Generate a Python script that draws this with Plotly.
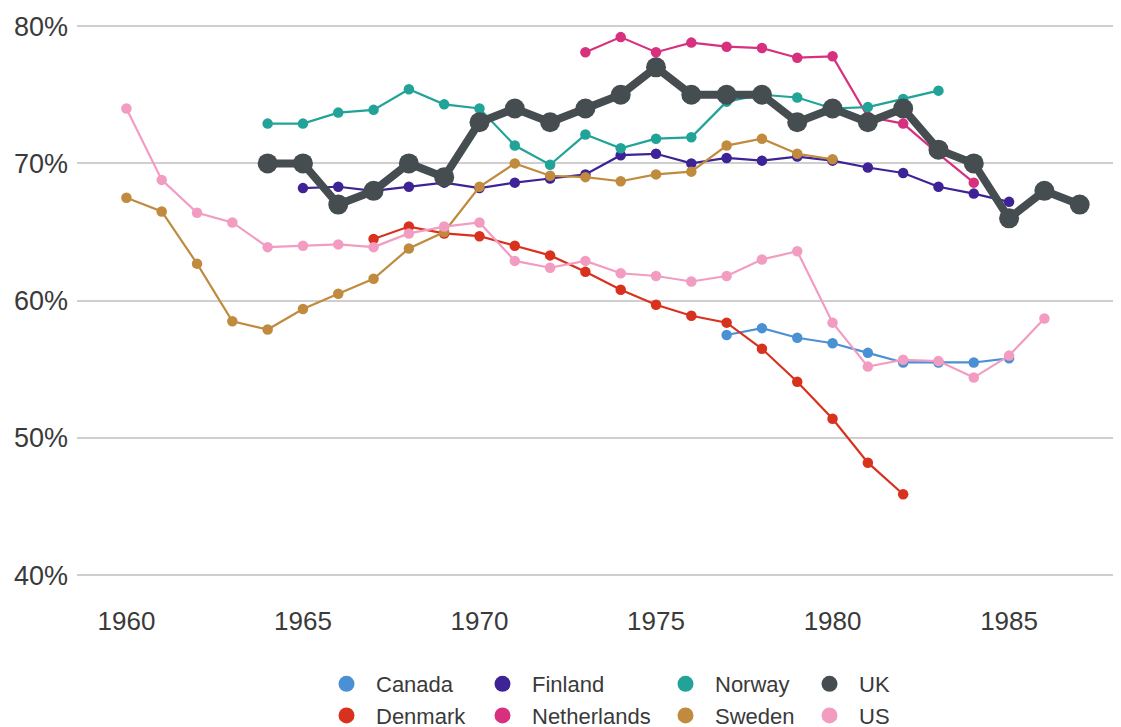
import plotly.graph_objects as go

# ---- data (percent) ----
canada_years = list(range(1977, 1986))
canada_vals = [57.5, 58.0, 57.3, 56.9, 56.2, 55.5, 55.5, 55.5, 55.8]

denmark_years = list(range(1967, 1983))
denmark_vals = [64.5, 65.4, 64.9, 64.7, 64.0, 63.3, 62.1, 60.8, 59.7, 58.9,
                58.4, 56.5, 54.1, 51.4, 48.2, 45.9]

finland_years = list(range(1965, 1986))
finland_vals = [68.2, 68.3, 68.0, 68.3, 68.6, 68.2, 68.6, 68.9, 69.2, 70.6,
                70.7, 70.0, 70.4, 70.2, 70.5, 70.2, 69.7, 69.3, 68.3, 67.8, 67.2]

netherlands_years = list(range(1973, 1985))
netherlands_vals = [78.1, 79.2, 78.1, 78.8, 78.5, 78.4, 77.7, 77.8, 73.4, 72.9,
                    70.7, 68.6]

norway_years = list(range(1964, 1984))
norway_vals = [72.9, 72.9, 73.7, 73.9, 75.4, 74.3, 74.0, 71.3, 69.9, 72.1,
               71.1, 71.8, 71.9, 74.5, 75.0, 74.8, 74.0, 74.1, 74.7, 75.3]

sweden_years = list(range(1960, 1981))
sweden_vals = [67.5, 66.5, 62.7, 58.5, 57.9, 59.4, 60.5, 61.6, 63.8, 65.0,
               68.3, 70.0, 69.1, 69.0, 68.7, 69.2, 69.4, 71.3, 71.8, 70.7, 70.3]

uk_years = list(range(1964, 1988))
uk_vals = [70, 70, 67, 68, 70, 69, 73, 74, 73, 74, 75, 77, 75, 75, 75, 73,
           74, 73, 74, 71, 70, 66, 68, 67]

us_years = list(range(1960, 1987))
us_vals = [74.0, 68.8, 66.4, 65.7, 63.9, 64.0, 64.1, 63.9, 64.9, 65.4, 65.7,
           62.9, 62.4, 62.9, 62.0, 61.8, 61.4, 61.8, 63.0, 63.6, 58.4, 55.2,
           55.7, 55.6, 54.4, 56.0, 58.7]

x_tick_vals = [1960, 1965, 1970, 1975, 1980, 1985]
y_tick_vals = [40, 50, 60, 70, 80]

series = [
    ("Canada", canada_years, canada_vals, "#4a90d4", "legend"),
    ("Denmark", denmark_years, denmark_vals, "#d8321e", "legend"),
    ("Finland", finland_years, finland_vals, "#3d2396", "legend2"),
    ("Netherlands", netherlands_years, netherlands_vals, "#d6307f", "legend2"),
    ("Norway", norway_years, norway_vals, "#21a398", "legend3"),
    ("Sweden", sweden_years, sweden_vals, "#c08b3e", "legend3"),
    ("UK", uk_years, uk_vals, "#454d51", "legend4"),
    ("US", us_years, us_vals, "#f29cc2", "legend4"),
]

fig = go.Figure()
for name, xs, ys, color, leg in series:
    thick = name == "UK"
    fig.add_trace(go.Scatter(
        x=xs, y=ys, name=name, mode="lines+markers",
        line=dict(color=color, width=8 if thick else 2.2),
        marker=dict(color=color, size=20 if thick else 10.5),
        showlegend=False,
    ))
# legend entries (markers only)
for name, xs, ys, color, leg in series:
    fig.add_trace(go.Scatter(
        x=[None], y=[None], name=name, mode="markers",
        marker=dict(color=color, size=17),
        legend=leg, showlegend=True,
    ))

# page body has an 8px offset; figure coordinates = screen - 8
W, H = 1113, 740
ml, mr, mt, mb = 69, 0, 14, 159
pw = W - ml - mr
ph = H - mt - mb


def lx(px):
    return (px - ml) / pw


leg_y = (H - mb - 655) / ph
legfont = dict(family="Liberation Sans, Arial, sans-serif", size=22, color="#3a3a3a")
common = dict(orientation="v", xanchor="left", yanchor="top", y=leg_y,
              font=legfont, bgcolor="rgba(0,0,0,0)", borderwidth=0,
              tracegroupgap=0, itemsizing="trace", itemwidth=49)

fig.update_layout(
    width=W, height=H,
    margin=dict(l=ml, r=mr, t=mt, b=mb),
    paper_bgcolor="white", plot_bgcolor="white",
    font=dict(family="Liberation Sans, Arial, sans-serif", color="#3a3a3a"),
    showlegend=True,
    legend=dict(x=lx(309), **common),
    legend2=dict(x=lx(465), **common),
    legend3=dict(x=lx(648), **common),
    legend4=dict(x=lx(792), **common),
    xaxis=dict(range=[1958.6, 1988.17], tickvals=x_tick_vals,
               ticktext=[str(v) for v in x_tick_vals],
               showgrid=False, zeroline=False, showline=False, ticks="",
               ticklabelstandoff=14,
               tickfont=dict(size=26, color="#3a3a3a")),
    yaxis=dict(range=[39, 80.3], tickvals=y_tick_vals,
               ticktext=[f"{v}%" for v in y_tick_vals],
               showgrid=True, gridcolor="#cfcfcf", gridwidth=2,
               zeroline=False, showline=False, ticks="",
               ticklabelstandoff=8,
               tickfont=dict(size=27, color="#3a3a3a")),
)

fig.write_html("out.html")
